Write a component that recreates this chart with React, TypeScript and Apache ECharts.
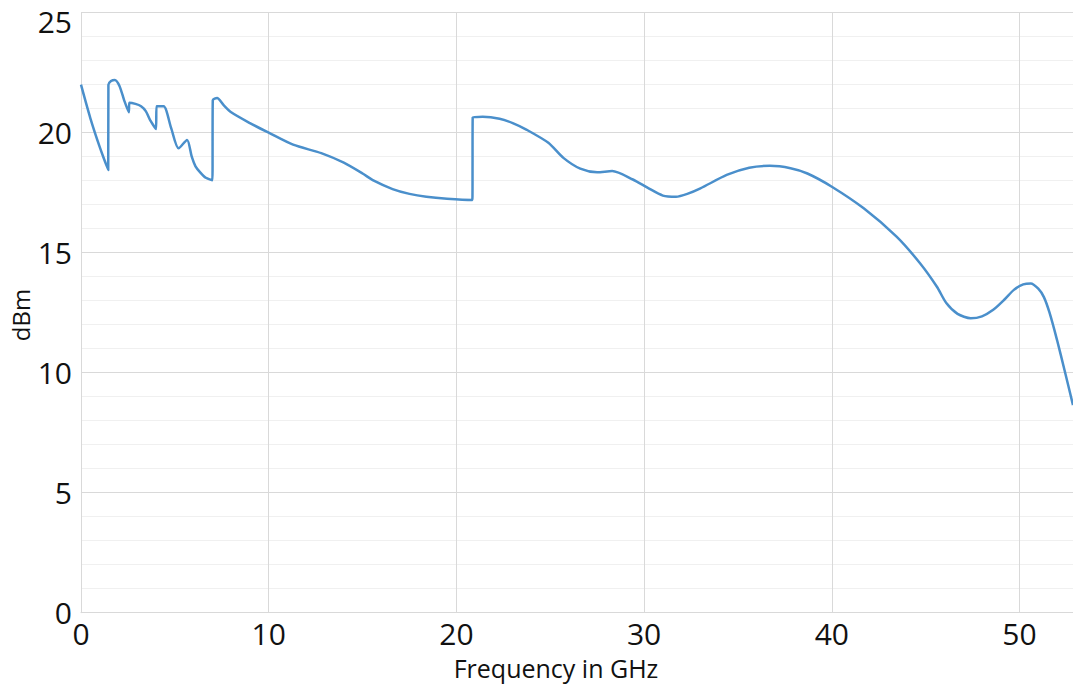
import React, { useEffect, useRef } from "react";
import * as echarts from "echarts";

const freqGHz: number[] = [
  0, 0.5, 1.0, 1.45, 1.46, 1.6, 1.8, 2.05, 2.3, 2.55, 2.57, 2.9, 3.2, 3.45, 3.7, 4.0, 4.02, 4.4, 4.8, 5.2, 5.65,
  5.9, 6.1, 6.35, 6.65, 7.0, 7.02, 7.25, 7.6, 8.0, 9.0, 10.0, 11.3, 12.8, 14.0, 15.0, 15.6, 16.6, 17.5, 18.4,
  19.5, 20.85, 20.87, 21.4, 22.3, 23.0, 23.75, 24.9, 25.7, 26.6, 27.5, 28.3, 29.4, 30.2, 31.0, 31.7, 32.3, 33.0,
  34.4, 35.6, 36.7, 37.8, 38.7, 40.0, 41.7, 43.45, 44.7, 45.6, 46.1, 46.7, 47.4, 48.0, 48.6, 49.2, 49.7, 50.2,
  50.6, 51.0, 51.3, 51.6, 52.0, 52.4, 52.85,
];

const powerDbm: number[] = [
  22.0, 20.6, 19.4, 18.45, 22.0, 22.15, 22.2, 21.95, 21.35, 20.85, 21.25, 21.2, 21.1, 20.9, 20.5, 20.15, 21.1,
  21.1, 20.2, 19.35, 19.7, 19.0, 18.6, 18.35, 18.12, 18.02, 21.35, 21.45, 21.15, 20.85, 20.4, 20.0, 19.5, 19.15,
  18.75, 18.3, 18.0, 17.65, 17.45, 17.33, 17.25, 17.2, 20.64, 20.66, 20.58, 20.4, 20.12, 19.58, 18.95, 18.5,
  18.35, 18.4, 18.05, 17.7, 17.38, 17.33, 17.45, 17.68, 18.24, 18.54, 18.62, 18.52, 18.3, 17.75, 16.85, 15.67,
  14.56, 13.58, 12.9, 12.45, 12.27, 12.35, 12.62, 13.05, 13.45, 13.68, 13.72, 13.5, 13.15, 12.5, 11.36, 10.1,
  8.65,
];

const yMaxLabel = "25";
const xTitle = "Frequency in GHz";
const yTitle = "dBm";

export default function App() {
  const ref = useRef<HTMLDivElement>(null);
  useEffect(() => {
    if (!ref.current) return;
    const chart = echarts.init(ref.current, undefined, { renderer: "svg" });
    const font = "'Open Sans', 'Noto Sans', sans-serif";
    chart.setOption({
      animation: false,
      backgroundColor: "#ffffff",
      grid: { left: 81, right: 0, top: 12.7, bottom: 82.3 },
      xAxis: {
        type: "value",
        min: 0,
        max: 52.85,
        interval: 10,
        axisLine: { show: true, lineStyle: { color: "#d9d9d9", width: 1 } },
        axisTick: { show: false },
        axisLabel: {
          showMaxLabel: false,
          fontFamily: font,
          fontSize: 30,
          color: "#111111",
          margin: 6,
        },
        splitLine: { show: true, lineStyle: { color: "#d9d9d9", width: 1 } },
      },
      yAxis: {
        type: "value",
        min: 0,
        max: 25,
        interval: 5,
        axisLine: { show: true, lineStyle: { color: "#d9d9d9", width: 1 } },
        axisTick: { show: false },
        minorTick: { show: false, splitNumber: 5 },
        minorSplitLine: { show: true, lineStyle: { color: "#f0f0f0", width: 1 } },
        axisLabel: {
          showMaxLabel: false,
          fontFamily: font,
          fontSize: 30,
          color: "#111111",
          margin: 9,
        },
        splitLine: { show: true, lineStyle: { color: "#d9d9d9", width: 1 } },
      },
      graphic: [
        {
          type: "text",
          x: 72,
          y: 6,
          style: {
            text: yMaxLabel,
            font: `30px ${font}`,
            fill: "#111111",
            align: "right",
            verticalAlign: "top",
          },
        },
        {
          type: "text",
          x: 556,
          y: 668,
          style: {
            text: xTitle,
            font: `25px ${font}`,
            fill: "#111111",
            align: "center",
            verticalAlign: "middle",
          },
        },
        {
          type: "text",
          x: 20,
          y: 315,
          rotation: Math.PI / 2,
          style: {
            text: yTitle,
            font: `24px ${font}`,
            fill: "#111111",
            align: "center",
            verticalAlign: "middle",
          },
        },
      ],
      series: [
        {
          type: "line",
          data: freqGHz.map((f, i) => [f, powerDbm[i]]),
          showSymbol: false,
          smooth: 0.25,
          lineStyle: { color: "#4a8fcb", width: 2.5 },
        },
      ],
    });
    return () => chart.dispose();
  }, []);
  return (
    <div
      ref={ref}
      style={{ position: "absolute", left: 0, top: 0, width: 1073, height: 695 }}
    />
  );
}
